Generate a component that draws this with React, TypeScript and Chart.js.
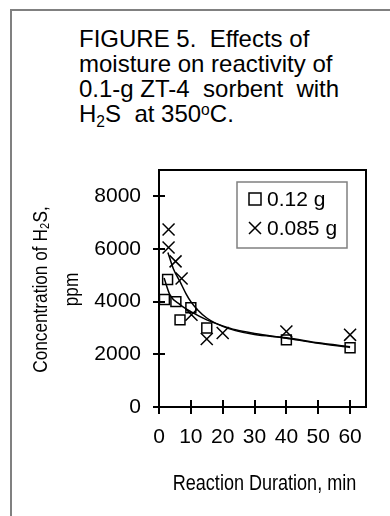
import React, { useEffect, useRef } from 'react';
import { Chart, registerables } from 'chart.js';

Chart.register(...registerables);

const xTicks = [0, 10, 20, 30, 40, 50, 60];
const yTicks = [0, 2000, 4000, 6000, 8000];
const seriesLabels = ['0.12 g', '0.085 g'];
const xTitle = 'Reaction Duration, min';
const yTitleLines = ['Concentration of H\u2082S,', 'ppm'];

// 0.12 g (squares)
const sqX = [1.7, 2.7, 5.3, 6.6, 10, 15, 40, 60];
const sqY = [4080, 4840, 4000, 3310, 3770, 3000, 2550, 2250];
// 0.085 g (crosses)
const crX = [3, 3, 5.2, 7.1, 10.2, 15, 20, 40, 60];
const crY = [6740, 6060, 5530, 4880, 3500, 2580, 2810, 2870, 2740];
// fitted curves
const fitCrX = [2.8, 4.5, 6.6, 8.5, 10, 12, 15, 20, 24, 30, 40, 50, 60];
const fitCrY = [5870, 5250, 4760, 4300, 4000, 3700, 3380, 3060, 2900, 2750, 2630, 2440, 2290];
const fitSqX = [1.6, 3.4, 6.6, 10, 15, 20, 24, 30, 40, 50, 60];
const fitSqY = [4900, 4270, 3890, 3620, 3310, 3080, 2930, 2790, 2610, 2420, 2260];

const pts = (xs: number[], ys: number[]) => xs.map((x, i) => ({ x, y: ys[i] }));

const SANS = '"Liberation Sans", Arial, sans-serif';

const framePlugin = {
  id: 'frameBox',
  afterDatasetsDraw(chart: any) {
    const { ctx, chartArea: a, scales } = chart;
    ctx.save();
    ctx.strokeStyle = '#000';
    ctx.lineWidth = 2;
    ctx.strokeRect(a.left, a.top, a.right - a.left, a.bottom - a.top);
    ctx.beginPath();
    for (const v of yTicks) {
      const y = Math.round(scales.y.getPixelForValue(v));
      ctx.moveTo(a.left, y);
      ctx.lineTo(a.left + 6, y);
    }
    for (const v of xTicks) {
      const x = Math.round(scales.x.getPixelForValue(v));
      ctx.moveTo(x, a.bottom);
      ctx.lineTo(x, a.bottom - 7);
    }
    ctx.stroke();

    // legend
    const bx = a.right - 129;
    const by = a.top + 12;
    const bw = 110;
    const bh = 66;
    ctx.fillStyle = '#fff';
    ctx.fillRect(bx, by, bw, bh);
    ctx.strokeStyle = '#808080';
    ctx.lineWidth = 1.5;
    ctx.strokeRect(bx, by, bw, bh);
    ctx.strokeStyle = '#000';
    ctx.lineWidth = 1.5;
    const mx = bx + 18;
    const y1 = by + 17;
    const y2 = by + 46;
    ctx.strokeRect(mx - 6, y1 - 6, 12, 12);
    ctx.beginPath();
    ctx.moveTo(mx - 6, y2 - 6);
    ctx.lineTo(mx + 6, y2 + 6);
    ctx.moveTo(mx + 6, y2 - 6);
    ctx.lineTo(mx - 6, y2 + 6);
    ctx.stroke();
    ctx.fillStyle = '#000';
    ctx.font = `21px ${SANS}`;
    ctx.textBaseline = 'middle';
    ctx.textAlign = 'left';
    ctx.fillText(seriesLabels[0], bx + 30, y1 + 1);
    ctx.fillText(seriesLabels[1], bx + 30, y2 + 1);
    ctx.restore();
  },
  afterDraw(chart: any) {
    const { ctx, chartArea: a } = chart;
    ctx.save();
    ctx.fillStyle = '#000';
    ctx.textAlign = 'center';
    ctx.textBaseline = 'alphabetic';
    // x-axis title (narrow face)
    ctx.font = `22px ${SANS}`;
    ctx.save();
    ctx.translate((a.left + a.right) / 2 + 2, a.bottom + 83);
    ctx.scale(0.82, 1);
    ctx.fillText(xTitle, 0, 0);
    ctx.restore();
    // y-axis title (narrow face, rotated)
    ctx.font = `21px ${SANS}`;
    const cy = (a.top + a.bottom) / 2 + 1;
    yTitleLines.forEach((line, i) => {
      ctx.save();
      ctx.translate(a.left - 112 + i * 31, cy);
      ctx.rotate(-Math.PI / 2);
      ctx.scale(0.82, 1);
      ctx.fillText(line, 0, 0);
      ctx.restore();
    });
    ctx.restore();
  },
};

export default function App() {
  const ref = useRef<HTMLCanvasElement>(null);
  useEffect(() => {
    if (!ref.current) return;
    const chart = new Chart(ref.current, {
      type: 'scatter',
      data: {
        datasets: [
          {
            label: seriesLabels[0],
            data: pts(sqX, sqY),
            pointStyle: 'rect',
            pointRadius: 7,
            pointBorderWidth: 1.5,
            borderColor: '#000',
            backgroundColor: 'rgba(255,255,255,0)',
            showLine: false,
          },
          {
            label: seriesLabels[1],
            data: pts(crX, crY),
            pointStyle: 'crossRot',
            pointRadius: 8.5,
            pointBorderWidth: 1.5,
            borderColor: '#000',
            backgroundColor: '#000',
            showLine: false,
          },
          {
            label: 'fit 0.085 g',
            data: pts(fitCrX, fitCrY),
            showLine: true,
            pointRadius: 0,
            borderColor: '#000',
            borderWidth: 1.5,
            cubicInterpolationMode: 'monotone',
          },
          {
            label: 'fit 0.12 g',
            data: pts(fitSqX, fitSqY),
            showLine: true,
            pointRadius: 0,
            borderColor: '#000',
            borderWidth: 1.5,
            cubicInterpolationMode: 'monotone',
          },
        ],
      },
      options: {
        animation: false,
        responsive: false,
        maintainAspectRatio: false,
        layout: { padding: { top: 170, right: 24, left: 0, bottom: 0 } },
        plugins: { legend: { display: false }, tooltip: { enabled: false }, title: { display: false } },
        scales: {
          x: {
            type: 'linear',
            min: 0,
            max: 65,
            afterBuildTicks: (s: any) => { s.ticks = xTicks.map((v) => ({ value: v })); },
            afterFit: (s: any) => { s.height = 109; },
            ticks: {
              color: '#000',
              font: { size: 21, family: SANS },
              padding: 11,
              autoSkip: false,
              maxRotation: 0,
              callback: (v: any) => String(v),
            },
            grid: { display: true, drawOnChartArea: false, drawTicks: true, tickLength: 7, color: '#000', lineWidth: 2 },
            border: { display: true, color: '#000', width: 2 },
            title: { display: false },
          },
          y: {
            type: 'linear',
            min: 0,
            max: 9000,
            afterBuildTicks: (s: any) => { s.ticks = yTicks.map((v) => ({ value: v })); },
            afterFit: (s: any) => { s.width = 159; },
            ticks: {
              color: '#000',
              font: { size: 21, family: SANS },
              padding: 12,
              callback: (v: any) => String(v),
            },
            grid: { display: true, drawOnChartArea: false, drawTicks: true, tickLength: 6, color: '#000', lineWidth: 2 },
            border: { display: true, color: '#000', width: 2 },
            title: { display: false },
          },
        },
      },
      plugins: [framePlugin],
    });
    return () => chart.destroy();
  }, []);

  const sub: React.CSSProperties = { fontSize: '0.65em', position: 'relative', top: '0.3em', lineHeight: 0 };
  const sup: React.CSSProperties = { fontSize: '0.65em', position: 'relative', top: '-0.45em', lineHeight: 0 };

  return (
    <div style={{ position: 'absolute', left: 0, top: 0, width: 390, height: 516, overflow: 'hidden', background: '#fff' }}>
      <div
        style={{
          position: 'absolute',
          left: 10,
          top: 9,
          width: 400,
          height: 520,
          borderLeft: '2px solid #808080',
          borderTop: '2px solid #808080',
        }}
      />
      <div
        style={{
          position: 'absolute',
          left: 79,
          top: 26,
          fontFamily: SANS,
          fontSize: 24,
          lineHeight: '25px',
          color: '#000',
          whiteSpace: 'pre',
        }}
      >
        <div>FIGURE 5.  Effects of</div>
        <div>moisture on reactivity of</div>
        <div>0.1-g ZT-4  sorbent  with</div>
        <div>
          H<span style={sub}>2</span>S  at 350<span style={sup}>o</span>C.
        </div>
      </div>
      <canvas ref={ref} width={390} height={516} style={{ position: 'absolute', left: 0, top: 0 }} />
    </div>
  );
}
